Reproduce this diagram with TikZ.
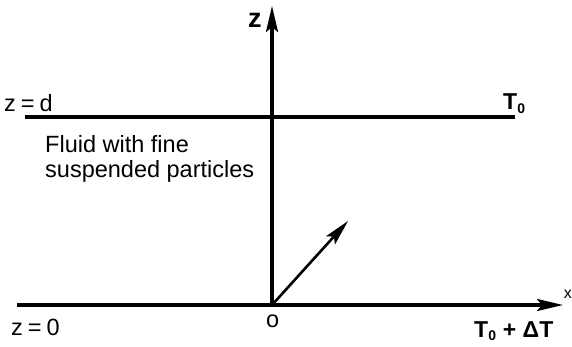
\documentclass[tikz,border=0pt]{standalone}
\usepackage{fontspec}
\setmainfont{Liberation Sans}
\usetikzlibrary{arrows.meta}
\begin{document}
\begin{tikzpicture}[x=1pt,y=-1pt,
  axis/.style={line width=3.2pt,black},
  tip/.style={-{Stealth[length=26pt,width=12pt,inset=5pt]}},
  lbl/.style={inner sep=0pt,font=\fontsize{23.5}{27}\selectfont},
  blbl/.style={inner sep=0pt,font=\fontsize{23}{27}\selectfont\bfseries}]
\useasboundingbox (0,0) rectangle (572,347);
\coordinate (O) at (272,305);
\coordinate (ztop) at (272,6);
\coordinate (dl) at (25,117);
\coordinate (dr) at (515,117);
\coordinate (bl) at (17,305);
\coordinate (br) at (563,305);
\coordinate (v) at (348,221);
\draw[axis,tip] (O) -- (ztop);
\draw[axis] (dl) -- (dr);
\draw[axis,tip] (bl) -- (br);
\draw[line width=2.6pt,tip] (O) -- (v);
\node[blbl,anchor=base west] (zl) at (248,28) {\fontsize{27}{30}\selectfont z};
\node[lbl,anchor=base west] (zd) at (4,112) {z\hspace{5pt}=\hspace{5pt}d};
\node[lbl,anchor=base west] (z0) at (11,335) {z\hspace{5pt}=\hspace{5pt}0};
\node[lbl,anchor=base west] (o) at (266,327) {o};
\node[blbl,anchor=base west] (T0) at (503,110) {T\textsubscript{\fontsize{14}{14}\selectfont 0}};
\node[blbl,anchor=base west] (T1) at (474,337) {T\textsubscript{\fontsize{14}{14}\selectfont 0} + ΔT};
\node[lbl,anchor=base west] (fl) at (45,153) {Fluid with fine};
\node[lbl,anchor=base west] (sp) at (45,178) {suspended particles};
\node[inner sep=0pt,font=\fontsize{16}{18}\selectfont,anchor=base east] (xl) at (572,298) {x};
\end{tikzpicture}
\end{document}
